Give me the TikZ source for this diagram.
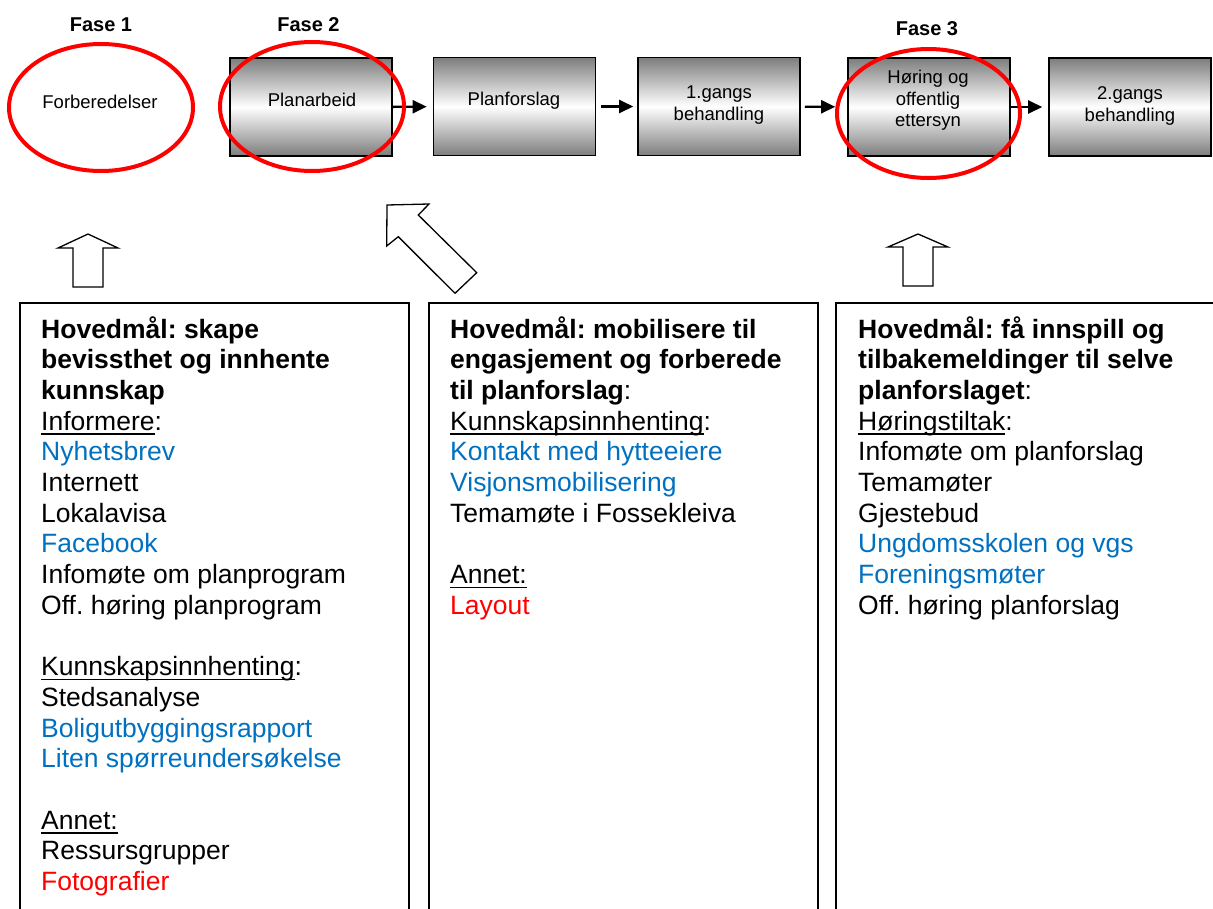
\documentclass[tikz,border=0pt]{standalone}
\usepackage{fontspec}
\setmainfont{Liberation Sans}
\usetikzlibrary{arrows.meta,shapes.geometric}
\definecolor{txtblue}{RGB}{0,112,192}
\definecolor{txtred}{RGB}{255,0,0}
\definecolor{boxgray}{RGB}{125,125,125}
\newcommand\ulx[1]{\setbox0\hbox{#1}\rlap{\rule[-4.6pt]{\wd0}{1.4pt}}\box0}
\frenchspacing
\begin{document}
\begin{tikzpicture}[x=1pt,y=-1pt,
  procbox/.style={draw=black, line width=1.6pt, minimum width=162pt, minimum height=98pt,
    inner sep=0pt, top color=boxgray, bottom color=boxgray, middle color=white},
  toptext/.style={font=\fontsize{18.5}{21.5}\selectfont, align=center, inner sep=0pt},
  phase/.style={font=\fontsize{20}{24}\selectfont\bfseries, inner sep=0pt},
  redring/.style={ellipse, draw=red, line width=4pt, inner sep=0pt},
  flow/.style={line width=2.4pt, -{Triangle[length=14pt,width=13pt]}},
  blockarrow/.style={draw=black, line width=1.3pt, line join=miter, fill=white},
  frame/.style={draw=black, line width=1.6pt},
  listtext/.style={font=\fontsize{26.5}{30.7}\selectfont\frenchspacing, inner sep=0pt, anchor=base west}]
\useasboundingbox (0,0) rectangle (1213,908);

% phase labels
\node[phase] (f1) at (101,25) {Fase 1};
\node[phase] (f2) at (308.5,25) {Fase 2};
\node[phase] (f3) at (927,28.5) {Fase 3};

% process boxes
\node[procbox] (b1) at (311,107) {};
\node[procbox] (b2) at (514.5,106.5) {};
\node[procbox] (b3) at (719,106.5) {};
\node[procbox] (b4) at (929,107) {};
\node[procbox] (b5) at (1130,107) {};

\node[toptext] (t0) at (100,102) {Forberedelser};
\node[toptext] (t1) at (312,100) {Planarbeid};
\node[toptext] (t2) at (514,101) {Planforslag};
\node[toptext] (t3) at (719,105) {1.gangs\\behandling};
\node[toptext] (t4) at (928,100.5) {Høring og\\offentlig\\ettersyn};
\node[toptext] (t5) at (1130,106) {2.gangs\\behandling};

% flow arrows
\draw[flow, shorten >=6pt] (b1) -- (b2);
\draw[flow, shorten <=5pt, shorten >=4pt] (b2) -- (b3);
\draw[flow, shorten <=4pt, shorten >=12pt] (b3) -- (b4);
\draw[flow, shorten >=6pt] (b4) -- (b5);

% red rings
\node[redring, minimum width=184pt, minimum height=127pt] (e1) at (101,107.5) {};
\node[redring, minimum width=184pt, minimum height=129pt] (e2) at (312,106.5) {};
\node[redring, minimum width=183pt, minimum height=129pt] (e3) at (928.5,113.5) {};

% block arrows
\draw[blockarrow] (88,234) -- (118,248) -- (103,248) -- (103,287) -- (73,287) -- (73,248) -- (58,248) -- cycle;
\draw[blockarrow] (918,234) -- (948,247) -- (933,247) -- (933,286) -- (903,286) -- (903,247) -- (888,247) -- cycle;
\draw[blockarrow] (387,205) -- (429,204) -- (418.3,215) -- (476.7,272.7) -- (455,293.3) -- (398.3,236.7) -- (386.7,246) -- cycle;

% lower frames
\draw[frame] (20,912) -- (20,303) -- (409,303) -- (409,912);
\draw[frame] (429,912) -- (429,303) -- (818,303) -- (818,912);
\draw[frame] (836,912) -- (836,303) -- (1216,303);

% lower texts
\node[listtext] (l1) at (41,338) {\vtop{%
\hbox{\bfseries Hovedmål: skape}
\hbox{\bfseries bevissthet og innhente}
\hbox{\bfseries kunnskap}
\hbox{\ulx{Informere}:}
\hbox{\color{txtblue}Nyhetsbrev}
\hbox{Internett}
\hbox{Lokalavisa}
\hbox{\color{txtblue}Facebook}
\hbox{Infomøte om planprogram}
\hbox{Off. høring planprogram}
\hbox{}
\hbox{\ulx{Kunnskapsinnhenting}:}
\hbox{Stedsanalyse}
\hbox{\color{txtblue}Boligutbyggingsrapport}
\hbox{\color{txtblue}Liten spørreundersøkelse}
\hbox{}
\hbox{\ulx{Annet:}}
\hbox{Ressursgrupper}
\hbox{\color{txtred}Fotografier}}};

\node[listtext] (l2) at (450,338) {\vtop{%
\hbox{\bfseries Hovedmål: mobilisere til}
\hbox{\bfseries engasjement og forberede}
\hbox{{\bfseries til planforslag}:}
\hbox{\ulx{Kunnskapsinnhenting}:}
\hbox{\color{txtblue}Kontakt med hytteeiere}
\hbox{\color{txtblue}Visjonsmobilisering}
\hbox{Temamøte i Fossekleiva}
\hbox{}
\hbox{\ulx{Annet:}}
\hbox{\color{txtred}Layout}}};

\node[listtext] (l3) at (858,338) {\vtop{%
\hbox{\bfseries Hovedmål: få innspill og}
\hbox{\bfseries tilbakemeldinger til selve}
\hbox{{\bfseries planforslaget}:}
\hbox{\ulx{Høringstiltak}:}
\hbox{Infomøte om planforslag}
\hbox{Temamøter}
\hbox{Gjestebud}
\hbox{\color{txtblue}Ungdomsskolen og vgs}
\hbox{\color{txtblue}Foreningsmøter}
\hbox{Off. høring planforslag}}};
\end{tikzpicture}
\end{document}
